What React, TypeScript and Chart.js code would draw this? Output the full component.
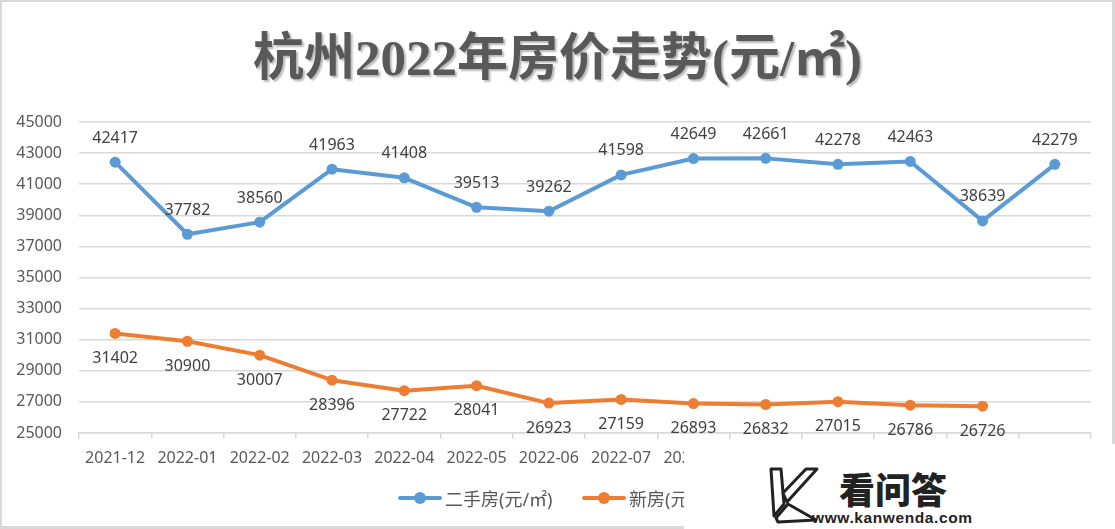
import React, { useEffect, useRef } from "react";
import { Chart, registerables } from "chart.js";

Chart.register(...registerables);

const categories = [
  "2021-12", "2022-01", "2022-02", "2022-03", "2022-04", "2022-05", "2022-06",
  "2022-07", "2022-08", "2022-09", "2022-10", "2022-11", "2022-12", "2023-01",
];
const secondHand = [42417, 37782, 38560, 41963, 41408, 39513, 39262, 41598, 42649, 42661, 42278, 42463, 38639, 42279];
const newHomes = [31402, 30900, 30007, 28396, 27722, 28041, 26923, 27159, 26893, 26832, 27015, 26786, 26726];
const seriesNames = ["二手房(元/㎡)", "新房(元/㎡)"];
const titleText = "杭州2022年房价走势(元/㎡)";
const yMin = 25000;
const yMax = 45000;
const yStep = 2000;

const BLUE = "#5B9BD5";
const ORANGE = "#ED7D31";
const FONT = '"Noto Sans", "Noto Sans CJK SC", sans-serif';

const valueLabels = {
  id: "valueLabels",
  afterDatasetsDraw(chart: any) {
    const ctx = chart.ctx;
    chart.data.datasets.forEach((ds: any, di: number) => {
      const meta = chart.getDatasetMeta(di);
      meta.data.forEach((pt: any, i: number) => {
        const v = ds.data[i];
        if (v == null) return;
        ctx.save();
        ctx.font = `16px ${FONT}`;
        ctx.fillStyle = "#404040";
        ctx.textAlign = "center";
        ctx.textBaseline = "middle";
        const dy = di === 0 ? -24 : 25;
        ctx.fillText(String(v), pt.x, pt.y + dy);
        ctx.restore();
      });
    });
  },
};

function App() {
  const ref = useRef<HTMLCanvasElement | null>(null);

  useEffect(() => {
    document.body.style.margin = "0";
    const canvas = ref.current;
    if (!canvas) return;
    const chart = new Chart(canvas, {
      type: "line",
      data: {
        labels: categories,
        datasets: [
          {
            label: seriesNames[0],
            data: secondHand,
            borderColor: BLUE,
            backgroundColor: BLUE,
            borderWidth: 4,
            pointRadius: 5.5,
            pointBackgroundColor: BLUE,
            pointBorderColor: BLUE,
            pointBorderWidth: 0,
            borderJoinStyle: "round",
            borderCapStyle: "round",
            tension: 0,
          },
          {
            label: seriesNames[1],
            data: newHomes,
            borderColor: ORANGE,
            backgroundColor: ORANGE,
            borderWidth: 4,
            pointRadius: 5.5,
            pointBackgroundColor: ORANGE,
            pointBorderColor: ORANGE,
            pointBorderWidth: 0,
            borderJoinStyle: "round",
            borderCapStyle: "round",
            tension: 0,
          },
        ],
      },
      options: {
        responsive: false,
        animation: false,
        layout: { padding: { left: 0, right: 24, top: 122, bottom: 56 } },
        plugins: {
          legend: { display: false },
          tooltip: { enabled: false },
          title: { display: false },
        },
        scales: {
          x: {
            offset: true,
            grid: {
              offset: true,
              drawOnChartArea: false,
              drawTicks: true,
              tickLength: 6,
              color: "#d9d9d9",
              lineWidth: 1.5,
            },
            border: { display: true, color: "#d9d9d9", width: 1.5 },
            ticks: {
              color: "#595959",
              font: { size: 16, family: FONT },
              padding: 10,
              maxRotation: 0,
              autoSkip: false,
            },
            afterFit: (s: any) => {
              s.height = 40;
            },
          },
          y: {
            min: yMin,
            max: yMax,
            ticks: {
              stepSize: yStep,
              color: "#595959",
              font: { size: 16, family: FONT },
              padding: 17,
              callback: (v: any) => String(v),
            },
            grid: { color: "#d9d9d9", lineWidth: 1.5, drawTicks: false },
            border: { display: false },
            afterFit: (s: any) => {
              s.width = 79;
            },
          },
        },
      },
      plugins: [valueLabels],
    });
    return () => chart.destroy();
  }, []);

  const legendItem = (color: string, text: string, left: number) => (
    <div style={{ position: "absolute", left, top: 486, height: 24, display: "flex", alignItems: "center" }}>
      <div style={{ position: "relative", width: 44, height: 24 }}>
        <div style={{ position: "absolute", left: 0, top: 10, width: 44, height: 4, borderRadius: 2, background: color }} />
        <div style={{ position: "absolute", left: 16, top: 6, width: 12, height: 12, borderRadius: 6, background: color }} />
      </div>
      <span style={{ marginLeft: 3, fontFamily: FONT, fontSize: 18, color: "#595959", whiteSpace: "nowrap" }}>{text}</span>
    </div>
  );

  return (
    <div style={{ position: "relative", width: 1115, height: 529, overflow: "hidden", background: "#fff" }}>
      <div
        style={{
          position: "absolute", left: 0, top: 0, width: 1115, height: 529, boxSizing: "border-box",
          borderTop: "2px solid #d9d9d9", borderLeft: "2px solid #d9d9d9",
          borderRight: "3px solid #d9d9d9", borderBottom: "3px solid #d9d9d9",
        }}
      />
      <canvas ref={ref} width={1115} height={529} style={{ position: "absolute", left: 0, top: 0 }} />
      <div
        style={{
          position: "absolute", left: 0, top: 26, width: 1115, textAlign: "center",
          fontFamily: '"Liberation Serif", "Noto Sans CJK SC", serif', fontWeight: 700, fontSize: 51,
          lineHeight: "64px", color: "#595959", textShadow: "2px 2px 2px rgba(0,0,0,0.28)", whiteSpace: "nowrap",
        }}
      >
        {titleText}
      </div>
      {legendItem(BLUE, seriesNames[0], 398)}
      {legendItem(ORANGE, seriesNames[1], 582)}
      <div style={{ position: "absolute", left: 684, top: 444, width: 431, height: 85, background: "#fff" }}>
        <svg width="52" height="58" viewBox="0 0 52 58" style={{ position: "absolute", left: 84, top: 22 }}>
          <g fill="#fff" stroke="#222" strokeWidth="3" strokeLinejoin="round">
            <path d="M3 3 L13 3 L16 38 L6 50 Z" />
            <path d="M38 3 L49 3 L19 36 L15 27 Z" />
            <path d="M8 52 L20 38 L48 54 L10 56 Z" />
          </g>
        </svg>
        <div style={{ position: "absolute", left: 155, top: 23, fontFamily: '"Noto Sans CJK SC", sans-serif', fontWeight: 900, fontSize: 36, lineHeight: "42px", color: "#222" }}>
          看问答
        </div>
        <div style={{ position: "absolute", left: 128, top: 66, fontFamily: '"Liberation Sans", Arial, sans-serif', fontWeight: 700, fontSize: 15.5, lineHeight: "16px", color: "#222", letterSpacing: 0.6 }}>
          www.kanwenda.com
        </div>
      </div>
    </div>
  );
}

export default App;
